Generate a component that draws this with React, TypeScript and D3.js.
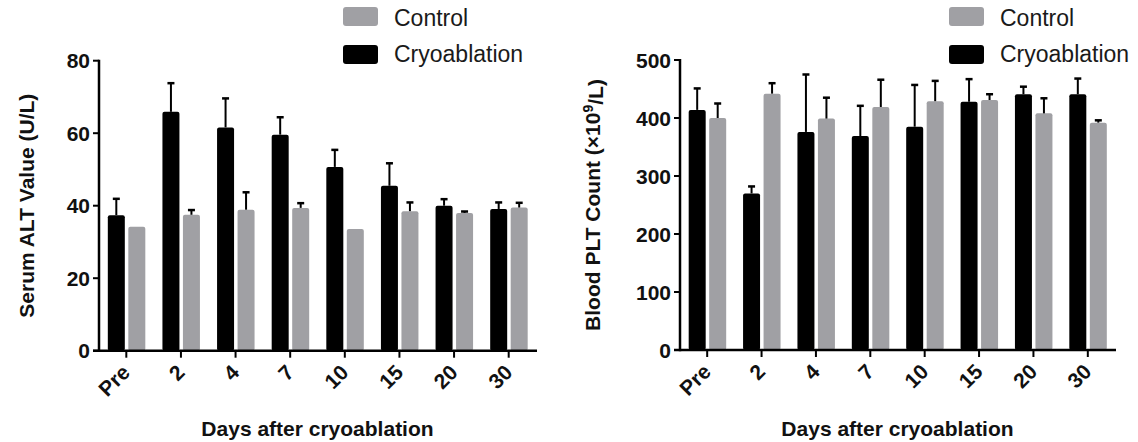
import React from "react";
import * as d3 from "d3";

const categories = ["Pre", "2", "4", "7", "10", "15", "20", "30"];

const altCryo = [37.4, 65.9, 61.6, 59.6, 50.7, 45.5, 40.0, 39.1];
const altCryoErr = [4.5, 7.9, 8.0, 4.8, 4.7, 6.2, 1.8, 1.8];
const altCtrl = [34.2, 37.5, 38.9, 39.4, 33.6, 38.5, 38.0, 39.5];
const altCtrlErr = [0, 1.3, 4.8, 1.3, 0, 2.4, 0.4, 1.3];
const altTicks = [0, 20, 40, 60, 80];

const pltCryo = [414, 270, 376, 369, 385, 428, 441, 441];
const pltCryoErr = [37, 12, 99, 52, 72, 39, 13, 27];
const pltCtrl = [400, 442, 399, 419, 429, 431, 408, 392];
const pltCtrlErr = [25, 18, 36, 47, 35, 10, 26, 4];
const pltTicks = [0, 100, 200, 300, 400, 500];

const legendLabels = ["Control", "Cryoablation"];
const xTitle = "Days after cryoablation";

const FONT = "'Liberation Sans', Arial, Helvetica, sans-serif";
const GRAY = "#a0a0a4";

type ChartProps = {
  cryo: number[];
  cryoErr: number[];
  ctrl: number[];
  ctrlErr: number[];
  ticks: number[];
  yTitle: React.ReactNode;
  x0: number;
  x1: number;
  y0: number;
  y1: number;
  yTitleX: number;
  legendX: number;
};

function BarChart(p: ChartProps) {
  const x = d3.scaleBand<string>().domain(categories).range([p.x0, p.x1]).padding(0);
  const yMax = p.ticks[p.ticks.length - 1];
  const y = d3.scaleLinear().domain([0, yMax]).range([p.y0, p.y1]);
  const bw = 17;
  const series = [
    { vals: p.cryo, errs: p.cryoErr, fill: "#000", off: -18.5 },
    { vals: p.ctrl, errs: p.ctrlErr, fill: GRAY, off: 2.0 },
  ];
  const cx = (c: string) => (x(c) as number) + x.bandwidth() / 2;
  return (
    <g>
      {series.map((s, si) => (
        <g key={si}>
          {categories.map((c, i) => {
            const bx = cx(c) + s.off;
            const top = y(s.vals[i]);
            return (
              <rect
                key={c}
                x={bx}
                y={top}
                width={bw}
                height={y(0) - top}
                rx={2}
                fill={s.fill}
              />
            );
          })}
          {categories.map((c, i) => {
            if (!s.errs[i]) return null;
            const ex = cx(c) + s.off + bw / 2;
            const top = y(s.vals[i]);
            const et = y(s.vals[i] + s.errs[i]);
            return (
              <g key={"e" + c} stroke="#000" strokeWidth={2}>
                <line x1={ex} x2={ex} y1={top} y2={et} />
                <line x1={ex - 3.5} x2={ex + 3.5} y1={et} y2={et} strokeWidth={2.5} />
              </g>
            );
          })}
        </g>
      ))}
      {/* axes */}
      <line x1={p.x0} x2={p.x0} y1={p.y1 - 1} y2={p.y0 + 1.2} stroke="#000" strokeWidth={2.5} />
      <line x1={p.x0 - 6} x2={p.x1 + 1} y1={p.y0} y2={p.y0} stroke="#000" strokeWidth={2.5} />
      {p.ticks.map((t) => (
        <g key={t}>
          <line x1={p.x0 - 6} x2={p.x0} y1={y(t)} y2={y(t)} stroke="#000" strokeWidth={2} />
          <text
            x={p.x0 - 9}
            y={y(t)}
            dy="0.36em"
            textAnchor="end"
            fontSize={21}
            fontWeight="bold"
            fontFamily={FONT}
            fill="#111"
          >
            {t}
          </text>
        </g>
      ))}
      {categories.map((c) => (
        <g key={"x" + c}>
          <line x1={cx(c)} x2={cx(c)} y1={p.y0} y2={p.y0 + 7} stroke="#000" strokeWidth={2} />
          <text
            transform={`translate(${cx(c) + 5},${p.y0 + 23}) rotate(-45)`}
            textAnchor="end"
            fontSize={21}
            fontWeight="bold"
            fontFamily={FONT}
            fill="#111"
          >
            {c}
          </text>
        </g>
      ))}
      <text
        x={(p.x0 + p.x1) / 2}
        y={436}
        textAnchor="middle"
        fontSize={21}
        fontWeight="bold"
        fontFamily={FONT}
        fill="#111"
      >
        {xTitle}
      </text>
      <text
        transform={`translate(${p.yTitleX},${(p.y0 + p.y1) / 2}) rotate(-90)`}
        textAnchor="middle"
        dy="0.36em"
        fontSize={21}
        fontWeight="bold"
        fontFamily={FONT}
        fill="#111"
      >
        {p.yTitle}
      </text>
      {/* legend */}
      {legendLabels.map((l, i) => (
        <g key={l}>
          <rect
            x={p.legendX}
            y={7 + i * 38}
            width={35}
            height={19}
            rx={3}
            fill={i === 0 ? GRAY : "#000"}
          />
          <text
            x={p.legendX + 51}
            y={26 + i * 36}
            fontSize={23}
            fontFamily={FONT}
            fill="#1a1a1a"
          >
            {l}
          </text>
        </g>
      ))}
    </g>
  );
}

export default function App() {
  return (
    <svg
      width={1138}
      height={442}
      style={{ position: "absolute", left: 0, top: 0, background: "#fff" }}
    >
      <rect width={1138} height={442} fill="#fff" />
      <BarChart
        cryo={altCryo}
        cryoErr={altCryoErr}
        ctrl={altCtrl}
        ctrlErr={altCtrlErr}
        ticks={altTicks}
        yTitle="Serum ALT Value (U/L)"
        x0={99}
        x1={536}
        y0={350.7}
        y1={60.7}
        yTitleX={26}
        legendX={343}
      />
      <BarChart
        cryo={pltCryo}
        cryoErr={pltCryoErr}
        ctrl={pltCtrl}
        ctrlErr={pltCtrlErr}
        ticks={pltTicks}
        yTitle={
          <>
            Blood PLT Count (×10
            <tspan dy="-0.45em" fontSize={14}>9</tspan>
            <tspan dy="0.45em">/L)</tspan>
          </>
        }
        x0={680}
        x1={1115}
        y0={350}
        y1={60}
        yTitleX={592}
        legendX={949}
      />
    </svg>
  );
}
